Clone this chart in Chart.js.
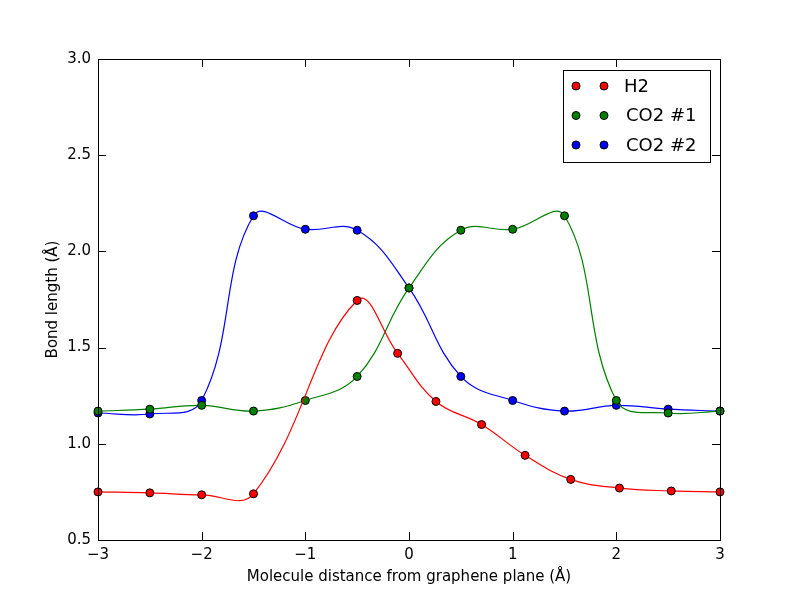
<!DOCTYPE html>
<html><head><meta charset="utf-8">
<script src="https://cdn.jsdelivr.net/npm/chart.js@4"></script>
<style>body{margin:0;background:#fff}#w{width:800px;height:600px}</style>
</head><body><div id="w"><canvas id="c"></canvas></div>
<script>
const h2X = [-3, -2.5, -2, -1.5, -0.5, -0.11, 0.26, 0.7, 1.12, 1.56, 2.03, 2.53, 3];
const h2Y = [0.75, 0.745, 0.735, 0.74, 1.745, 1.47, 1.22, 1.1, 0.94, 0.815, 0.77, 0.755, 0.75];
const co2aX = [-3, -2.5, -2, -1.5, -1, -0.5, 0, 0.5, 1, 1.5, 2, 2.5, 3];
const co2aY = [1.17, 1.18, 1.2, 1.17, 1.225, 1.35, 1.81, 2.11, 2.115, 2.185, 1.225, 1.16, 1.17];
const co2bX = [-3, -2.5, -2, -1.5, -1, -0.5, 0, 0.5, 1, 1.5, 2, 2.5, 3];
const co2bY = [1.16, 1.155, 1.225, 2.185, 2.115, 2.11, 1.81, 1.35, 1.225, 1.17, 1.2, 1.18, 1.17];
const xTicks = [-3, -2, -1, 0, 1, 2, 3];
const yTicks = [0.5, 1.0, 1.5, 2.0, 2.5, 3.0];
const names = ['H2', 'CO2 #1', 'CO2 #2'];
const colors = ['#ff0000', '#008000', '#0000ff'];
const pts = (xs, ys) => xs.map((x, i) => ({x, y: ys[i]}));
const series = [pts(h2X, h2Y), pts(co2aX, co2aY), pts(co2bX, co2bY)];
const F = 'DejaVu Sans';
const fmtX = v => (v < 0 ? '\u2212' + (-v) : '' + v);

const deco = {
  id: 'deco',
  afterDraw(ch) {
    const g = ch.ctx, a = ch.chartArea, xs = ch.scales.x, ys = ch.scales.y;
    g.save();
    g.strokeStyle = '#000'; g.lineWidth = 1;
    g.beginPath();
    xTicks.forEach(v => { const p = Math.round(xs.getPixelForValue(v)) + 0.5;
      g.moveTo(p, a.bottom); g.lineTo(p, a.bottom - 8); g.moveTo(p, a.top); g.lineTo(p, a.top + 8); });
    yTicks.forEach(v => { const p = Math.round(ys.getPixelForValue(v)) + 0.5;
      g.moveTo(a.left, p); g.lineTo(a.left + 8, p); g.moveTo(a.right, p); g.lineTo(a.right - 8, p); });
    g.stroke();
    g.strokeRect(a.left + 0.5, a.top + 0.5, a.right - a.left, a.bottom - a.top);
    const lx = 563, ly = 70, lw = 147, lh = 92;
    g.fillStyle = '#fff'; g.fillRect(lx, ly, lw, lh);
    g.strokeRect(lx + 0.5, ly + 0.5, lw, lh);
    g.font = '18px ' + F; g.textBaseline = 'middle';
    names.forEach((n, i) => {
      const y = 86 + i * 29.5;
      [576, 604].forEach(x => { g.beginPath(); g.arc(x, y, 4, 0, 2 * Math.PI);
        g.fillStyle = colors[i]; g.fill(); g.strokeStyle = '#000'; g.stroke(); });
      g.fillStyle = '#000'; g.fillText(n, i === 0 ? 624 : 626, y + 1);
    });
    g.restore();
  }
};

new Chart(document.getElementById('c'), {
  type: 'line',
  data: { datasets: series.map((d, i) => ({
    label: names[i], data: d, borderColor: colors[i], backgroundColor: colors[i],
    borderWidth: 1.2, tension: 0.4, cubicInterpolationMode: 'default',
    pointRadius: 4, pointBorderColor: '#000', pointBorderWidth: 1, pointBackgroundColor: colors[i],
    clip: false
  })) },
  options: {
    responsive: true, maintainAspectRatio: false, animation: false,
    layout: { padding: { top: 59, right: 80, left: 40, bottom: 10 } },
    plugins: { legend: { display: false }, tooltip: { enabled: false } },
    scales: {
      x: { type: 'linear', min: -3, max: 3,
        afterBuildTicks: s => { s.ticks = xTicks.map(v => ({value: v})); },
        afterFit: s => { s.height = 50; },
        grid: { display: false, drawTicks: false }, border: { display: false },
        ticks: { color: '#000', font: { family: F, size: 15 }, padding: 6, maxRotation: 0, callback: v => fmtX(v) },
        title: { display: true, text: 'Molecule distance from graphene plane (\u00c5)', color: '#000', font: { family: F, size: 15 }, padding: { top: 4 } } },
      y: { min: 0.5, max: 3.0,
        afterBuildTicks: s => { s.ticks = yTicks.map(v => ({value: v})); },
        afterFit: s => { s.width = 58; },
        grid: { display: false, drawTicks: false }, border: { display: false },
        ticks: { color: '#000', font: { family: F, size: 15 }, padding: 7, callback: v => v.toFixed(1) },
        title: { display: true, text: 'Bond length (\u00c5)', color: '#000', font: { family: F, size: 15 }, padding: { bottom: 6 } } }
    }
  },
  plugins: [deco]
});
</script></body></html>
